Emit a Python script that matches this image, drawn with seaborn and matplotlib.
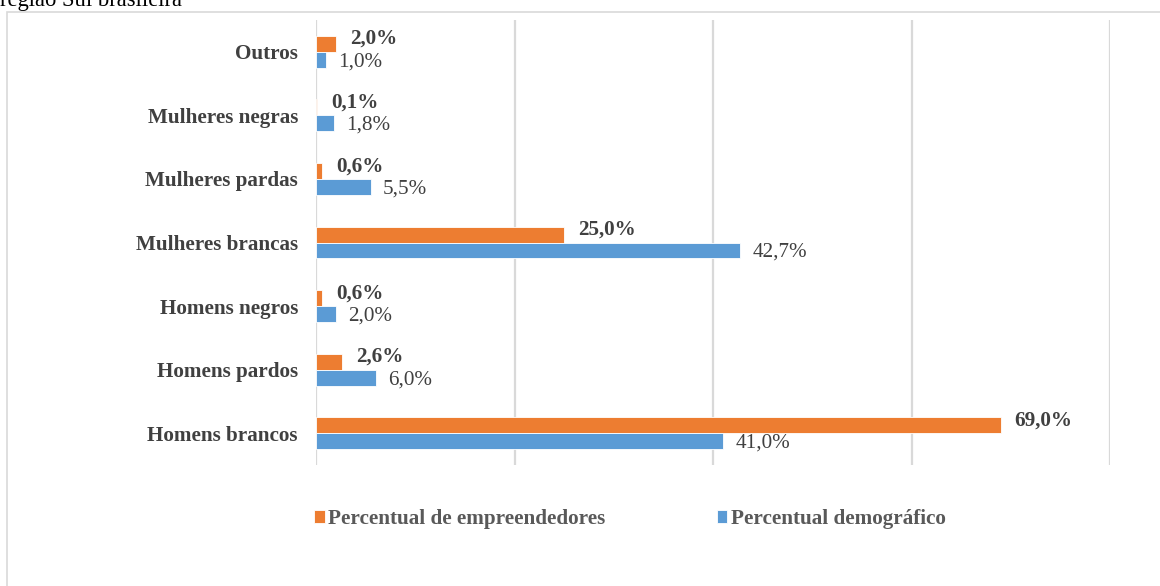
import numpy as np
import pandas as pd
import seaborn as sns
import matplotlib.pyplot as plt
from matplotlib.patches import Rectangle

grupos = ['Outros', 'Mulheres negras', 'Mulheres pardas', 'Mulheres brancas',
          'Homens negros', 'Homens pardos', 'Homens brancos']
empreendedores = [2.0, 0.1, 0.6, 25.0, 0.6, 2.6, 69.0]
demografico = [1.0, 1.8, 5.5, 42.7, 2.0, 6.0, 41.0]
series = ['Percentual de empreendedores', 'Percentual demográfico']
cores = ['#ED7D31', '#5B9BD5']

df = pd.DataFrame({
    'grupo': grupos * 2,
    'valor': empreendedores + demografico,
    'serie': [series[0]] * len(grupos) + [series[1]] * len(grupos),
})

sns.set_theme(style='white')
plt.rcParams['font.family'] = ['Liberation Serif', 'DejaVu Serif']
texto = '#404040'
fs = 15.2

fig = plt.figure(figsize=(11.6, 5.86), dpi=100)
ax = fig.add_axes([316 / 1160, 1 - 465 / 586, (1110 - 316) / 1160, (465 - 20) / 586])

sns.barplot(data=df, y='grupo', x='valor', hue='serie', orient='h',
            order=grupos, hue_order=series, palette=cores, width=0.5,
            saturation=1, edgecolor='white', linewidth=0.6, ax=ax)

ax.set_xlim(0, 80)
ax.set_ylim(6.5, -0.5)
ax.set_xticks(np.arange(0, 81, 20))
ax.set_xticklabels([])
ax.tick_params(axis='x', length=0)
ax.tick_params(axis='y', length=0, pad=13)
ax.grid(axis='x', color='#D9D9D9', linewidth=1.6)
ax.grid(axis='y', visible=False)
for s in ax.spines.values():
    s.set_visible(False)
ax.set_xlabel('')
ax.set_ylabel('')
for lab in ax.get_yticklabels():
    lab.set_fontweight('bold')
    lab.set_fontsize(fs)
    lab.set_color(texto)

fmt = lambda v: f'{v:.1f}%'.replace('.', ',')
rot_emp = ax.bar_label(ax.containers[0], labels=[fmt(v) for v in empreendedores],
                       fontsize=fs, fontweight='bold', color=texto)
rot_dem = ax.bar_label(ax.containers[1], labels=[fmt(v) for v in demografico],
                       fontsize=fs, color=texto)
# deslocar rótulos como no Excel (laranja acima, azul abaixo)
for a in rot_emp:
    a.xyann = (10, 3.5)
for a in rot_dem:
    a.xyann = (9, -1.5)

ax.legend(loc='center left', bbox_to_anchor=(314 / 1160, 1 - 519 / 586),
          bbox_transform=fig.transFigure, ncol=2, frameon=False,
          handlelength=0.5, handleheight=0.5, handletextpad=0.15,
          columnspacing=5.3, borderpad=0, borderaxespad=0,
          prop={'weight': 'bold', 'size': fs})
for t in ax.get_legend().get_texts():
    t.set_color('#595959')

fig.patches.append(Rectangle((7 / 1160, -0.1), 1.2, 1 - 12 / 586 + 0.1,
                             transform=fig.transFigure, fill=False,
                             edgecolor='#D9D9D9', linewidth=1.2))
fig.text(0, 1 - 6 / 586, 'região Sul brasileira', fontsize=16.3,
         color='black', va='baseline', ha='left')

fig.savefig('out.png', dpi=100)
